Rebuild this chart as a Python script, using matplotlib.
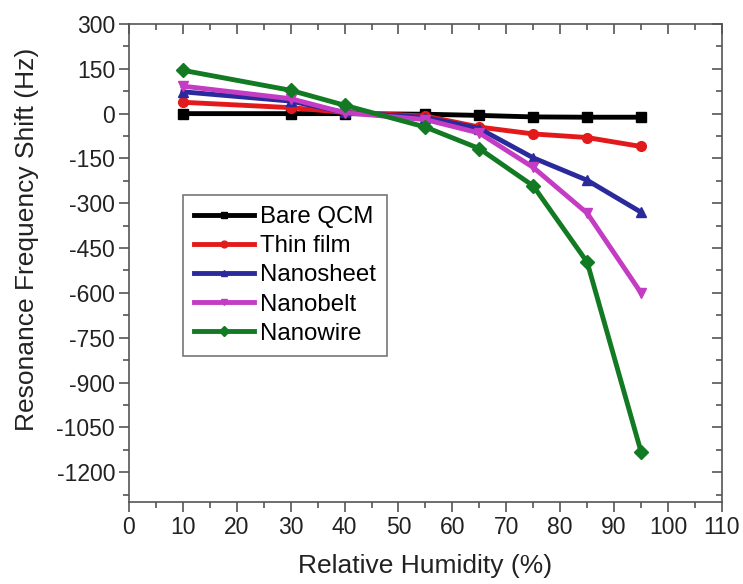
import matplotlib.pyplot as plt
from matplotlib.ticker import MultipleLocator

plt.rcParams['font.family'] = ['Liberation Sans', 'DejaVu Sans']
plt.rcParams['axes.unicode_minus'] = False

humidity = [10, 30, 40, 55, 65, 75, 85, 95]
bare_qcm = [0, 0, 0, -2, -6, -11, -12, -12]
thin_film = [38, 20, 4, -8, -45, -68, -80, -110]
nanosheet = [73, 42, 4, -13, -50, -148, -223, -330]
nanobelt = [92, 50, 3, -20, -65, -180, -333, -600]
nanowire = [145, 78, 28, -45, -117, -242, -497, -1132]

series = [
    ('Bare QCM', bare_qcm, 'black', 's'),
    ('Thin film', thin_film, '#e31a1c', 'o'),
    ('Nanosheet', nanosheet, '#2a2a9c', '^'),
    ('Nanobelt', nanobelt, '#c43cc4', 'v'),
    ('Nanowire', nanowire, '#127a22', 'D'),
]
yticks = list(range(-1200, 301, 150))

fig = plt.figure(figsize=(7.43, 5.84), dpi=100)
ax = fig.add_axes([0.1736, 0.1404, 0.798, 0.8185])

for name, vals, col, mk in series:
    ax.plot(humidity, vals, '-', color=col, marker=mk, lw=3.5, ms=7, label=name)

ax.set_xlim(0, 110)
ax.set_ylim(-1300, 300)
ax.xaxis.set_major_locator(MultipleLocator(10))
ax.xaxis.set_minor_locator(MultipleLocator(5))
ax.set_yticks(yticks)
ax.yaxis.set_minor_locator(MultipleLocator(75))

for s in ax.spines.values():
    s.set_color('#555555')
    s.set_linewidth(1.2)

ax.tick_params(which='both', direction='out', colors='#555555', labelcolor='#222222',
               labelsize=16.5, width=1.2, pad=3)
ax.tick_params(which='major', length=7)
ax.tick_params(which='minor', length=4)

# mirrored ticks on top and right, pointing inward
top = ax.secondary_xaxis('top')
top.xaxis.set_major_locator(MultipleLocator(10))
top.xaxis.set_minor_locator(MultipleLocator(5))
top.tick_params(which='both', direction='in', labeltop=False, colors='#555555', width=1.2)
top.tick_params(which='major', length=7)
top.tick_params(which='minor', length=4)
top.spines['top'].set_visible(False)
right = ax.secondary_yaxis('right')
right.set_yticks(yticks)
right.yaxis.set_minor_locator(MultipleLocator(75))
right.tick_params(which='both', direction='in', labelright=False, colors='#555555', width=1.2)
right.tick_params(which='major', length=7)
right.tick_params(which='minor', length=4)
right.spines['right'].set_visible(False)

ax.set_xlabel('Relative Humidity (%)', fontsize=19, color='#222222', labelpad=11)
ax.set_ylabel('Resonance Frequency Shift (Hz)', fontsize=19, color='#222222')
ax.yaxis.set_label_coords(-0.152, 0.55)

leg = ax.legend(loc='upper left', bbox_to_anchor=(0.091, 0.642), borderaxespad=0,
                fontsize=17.3, fancybox=False, edgecolor='#555555', handlelength=2.5,
                handletextpad=0.25, labelspacing=0.3, borderpad=0.45, markerscale=0.7)
leg.get_frame().set_linewidth(1.2)

fig.savefig('out.png', dpi=100)
